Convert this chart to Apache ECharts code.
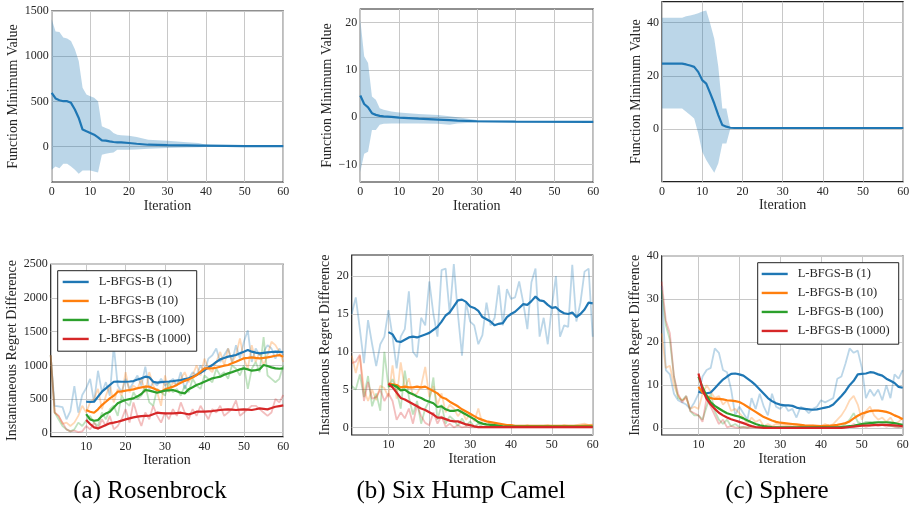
<!DOCTYPE html>
<html>
<head>
<meta charset="utf-8">
<script src="https://cdn.jsdelivr.net/npm/echarts@6/dist/echarts.min.js"></script>
<style>html,body{margin:0;padding:0;background:#fff;}#c{width:909px;height:511px;}</style>
</head>
<body>
<div id="c"></div>
<script>
// ---------- DATA ----------
const methodNames = ['L-BFGS-B (1)','L-BFGS-B (10)','L-BFGS-B (100)','L-BFGS-B (1000)'];
const methodColors = ['#1f77b4','#ff7f0e','#2ca02c','#d62728'];
const captions = ['(a) Rosenbrock','(b) Six Hump Camel','(c) Sphere'];

// Top row: mean ± band of function minimum value
const rbX     = [0,1,2,3,4,5,6,7,8,9,10,11,12,13,14,15,16,17,18,20,22,25,30,35,38,40,45,50,60];
const rbMean  = [596,533,514,503,503,485,411,318,189,170,152,133,104,70,67,59,52,48,48,41,33,22,18,15,12,11,9,7,7];
const rbUpper = [1410,1273,1269,1206,1195,1169,1077,947,651,577,559,540,503,226,207,189,152,133,126,122,107,78,67,48,41,22,11,8,7];
const rbLower = [-255,-218,-237,-189,-189,-218,-255,-300,-263,-263,-263,-274,-285,-89,-78,-70,-63,-33,-33,-33,-30,-22,-15,-8,-5,-4,3,5,6];

const shX     = [0,1,2,3,4,5,6,8,10,15,20,23,25,30,40,60];
const shMean  = [4.6,2.8,2.1,0.85,0.5,0.3,0.2,0.07,-0.07,-0.3,-0.5,-0.62,-0.7,-0.85,-0.92,-1.0];
const shUpper = [20.7,12.9,11.5,4.4,3.7,1.9,1.56,1.2,1.0,0.7,0.5,0.2,0,-0.57,-0.8,-1.0];
const shLower = [-11.6,-7.7,-7.3,-2.7,-2.7,-1.6,-1.4,-1.35,-1.3,-1.3,-1.4,-1.6,-1.3,-1.1,-1.05,-1.05];

const spX     = [0,5,6,7,8,9,10,11,12,13,14,15,16,17,18,60];
const spMean  = [24.6,24.6,24.3,23.9,23.4,21.5,18.4,17.1,13.4,9.6,5.25,1.5,0.9,0.5,0.4,0.4];
const spUpper = [41.9,41.9,42.4,42.75,43.1,43.6,44.25,44.6,39.6,34,23.4,7.75,7.75,0.4,0.4,0.4];
const spLower = [7.75,7.75,6.5,5.25,4,-1.6,-8.5,-11.6,-14.1,-16.4,-12.9,-5.4,-5.4,0.25,0.4,0.4];

// Bottom row: raw instantaneous regret difference, iterations 1..60
const rbRawBlue = [1150,400,390,380,200,320,690,300,560,660, 800,450,920,600,750,550,1290,700,600,800, 650,750,850,700,980,650,750,700,800,700, 750,800,700,900,650,800,900,850,1000,900, 1100,1150,1250,1050,1150,1250,1050,1300,1100,1350, 1520,1050,1250,1150,1200,1300,1250,1100,1250,1150];
const rbRawOrange = [1150,300,250,130,150,100,150,250,400,300, 450,500,650,350,550,700,450,650,550,900, 600,700,650,800,600,900,700,600,400,850, 600,750,700,800,900,750,850,1000,850,1100, 950,900,1050,1200,1000,1250,1050,1150,1400,1100, 950,1300,1050,1200,1000,1150,1350,1300,1200,1050];
const rbRawGreen = [1150,300,200,100,50,20,50,150,100,180, 250,150,100,300,200,350,400,250,550,450, 400,600,500,550,700,450,400,650,600,550, 750,600,650,550,700,600,800,700,650,850, 800,750,950,850,900,800,1000,950,850,1000, 650,950,1050,900,1420,850,800,750,800,1000];
const rbRawRed = [1150,300,250,150,50,20,30,10,20,100, 50,150,50,200,100,250,50,100,200,350, 150,450,250,100,300,200,400,250,150,300, 200,350,250,450,300,200,350,250,400,300, 200,350,300,400,250,300,350,480,250,300, 350,400,400,350,300,250,300,500,450,560];

const shRawBlue = [15,17.2,13,8.5,14.2,11,8.1,11,12,15.5, 12,7.8,12,13,18,10,9.3,14.5,13.5,19.3, 15,12,20.8,21,15,21.6,15,9.5,16.5,14, 13.5,11,12.2,16.5,13.5,14.5,18.8,13.5,18.3,17, 17.2,19.3,16.5,13,19.2,21,12,14.5,11,16, 20,12,13.5,13.3,21.5,14,16.5,20.6,21,12];
const shRawOrange = [9.5,7.2,9.5,5,3.5,5,3.6,5.5,5.2,4, 8.2,3.8,8.6,5.2,6.5,4.2,4.5,5.5,8,4, 5.5,3,4.5,2,3,2.5,1.5,2.2,1,1.8, 0.8,2.5,0.5,0.3,0.6,0.2,0.4,0.1,0.2,0.3, 0.1,0.2,0.1,0.3,0.1,0.2,0.1,0.2,0.3,0.1, 0.2,0.1,0.3,0.2,0.1,0.3,0.4,0.5,0.3,0.4];
const shRawGreen = [5.5,5,7,4,6.8,2.8,4.5,2.2,10,5.3, 6.4,4.8,2.5,7.5,4,1.7,3.5,0.5,2.5,3.5, 6.6,1,3,0.5,1.5,1,0.2,1.2,0.2,0.8, 0.1,0.5,0.1,0.1,0.05,0.1,0.05,0.05,0.05,0.05, 0.05,0.05,0.05,0.05,0.05,0.05,0.05,0.05,0.05,0.05, 0.05,0.05,0.05,0.05,0.05,0.05,0.05,0.05,0.05,0.05];
const shRawRed = [8.5,8.7,9.6,3.5,6,3.8,4,5,3.5,4.5, 3.5,1,2,1.2,2.5,0.5,3,1.5,0.6,0.3, 2,0.5,1.5,0.1,0.5,0,0.3,0,0.1,0, 0,0,0,0,0,0,0,0,0,0, 0,0,0,0,0,0,0,0,0,0, 0,0,0,0,0,0,0,0,0,0];

const spRawBlue = [33,13.5,12.5,8,6.5,6,5.5,4.5,6,8, 12,13.5,14,18.5,17.5,13.5,13,9,3,5, 3.5,2,7,4.5,8,5,3,8,5,4.5, 5.5,4,4.5,2.5,5,4.5,3.5,4.5,5,6.5, 6,6.5,7,11.5,12,15,18.5,17.5,18,14, 7,9,7.5,9,6.5,10,7,12.5,11.5,13.5];
const spRawOrange = [22,14,14.5,10,7.5,6.5,7,4.5,5,4.5, 8,10,8.5,7,7.5,5.5,6.5,4,4.5,3.5, 2.5,1,2.5,1.5,2,0.5,1,0.5,1,0.8, 0.8,0.6,0.5,0.7,0.4,0.5,0.3,0.6,0.4,0.5, 1,0.5,1,2,3,4.5,6.5,7.5,5.5,2, 4,5,3,2,2.5,1.5,2.5,1,1.5,2.5];
const spRawGreen = [32,24,20.5,12,7,6.5,7.5,4,3,3, 2,5,8,4,2,1,2,0.5,1,0.3, 0.3,0.2,0.5,0.2,0.3,0.1,0.2,0.1,0.2,0.1, 0.2,0.1,0.2,0.1,0.2,0.1,0.2,0.1,0.2,0.1, 0.2,0.3,0.2,0.3,0.5,1,2,3.5,1.5,1, 1.5,1.5,1,0.8,1,0.8,0.5,0.5,0.3,0.5];
const spRawRed = [34,25,22,12,8,6,7.5,4,3.5,3, 1.5,7,5,3,1,2,0.2,0.5,0.2,0.1, 0.3,0.1,0.2,0.1,0.1,0.2,0.1,0.1,0.2,0.1, 0.1,0.2,0.1,0.1,0.2,0.1,0.1,0.2,0.1,0.1, 0.2,0.1,0.3,0.2,0.1,0.2,0.3,1,0.5,0.8, 0.3,0.6,1,0.5,0.8,0.4,0.6,0.3,0.2,0.3];

// Bottom row: smoothed curves, iterations 10..60
const rbSmBlue = [460,458,460,535,609,658,708,757,760,757, 757,760,767,790,807,832,822,757,743,750, 757,760,767,775,782,795,807,830,856,890, 931,968,1005,1050,1089,1110,1129,1140,1153,1180, 1203,1228,1203,1190,1178,1185,1193,1198,1203,1200,1198];
const rbSmOrange = [337,312,297,347,411,460,510,550,609,615, 624,634,644,660,673,683,683,660,634,609, 644,665,683,710,743,770,792,820,856,905, 955,955,955,965,980,995,1005,1030,1054,1080, 1104,1110,1119,1110,1104,1110,1119,1130,1143,1153,1129];
const rbSmGreen = [277,198,178,188,247,287,312,376,436,465, 485,498,510,540,574,634,624,610,594,610, 624,630,634,615,594,584,644,675,708,730, 757,782,807,820,832,860,881,900,921,940, 955,940,921,930,941,1005,990,970,955,950,955];
const rbSmRed = [188,129,79,64,89,114,139,150,163,180, 198,213,228,238,247,250,252,275,297,292, 287,287,287,292,297,285,272,290,312,312, 312,317,322,330,337,342,347,342,337,342, 347,342,337,349,361,354,347,366,386,396,406];

const shSmBlue = [12.6,12.3,11.4,11.3,11.6,11.9,12,11.9,12.1,12.3, 12.5,12.9,13.3,14,14.8,15.2,16,16.8,16.9,16.6, 16,15.8,15.4,14.6,14.3,14,13.5,13.7,13.8,14.6, 15,15.3,15.8,16.3,16.2,16.7,17.3,16.8,16.7,16.2, 15.8,15.9,15.4,15.1,15,15.2,14.6,15,15.6,16.5,16.4];
const shSmOrange = [5.8,5.7,5.6,5.3,5.4,5.3,5.3,5.4,5.3,5.4, 5.1,4.8,4.5,4.0,3.8,3.4,3.1,2.8,2.4,2.1, 1.8,1.5,1.2,1.0,0.8,0.7,0.6,0.5,0.4,0.3, 0.3,0.2,0.2,0.2,0.2,0.2,0.2,0.2,0.2,0.2, 0.2,0.2,0.2,0.2,0.2,0.2,0.22,0.22,0.25,0.25,0.25];
const shSmGreen = [5.5,5.6,5.4,4.9,5.0,4.6,4.4,4.1,3.9,3.6, 3.4,3.2,2.7,2.8,2.4,2.2,2.2,2.3,2.0,1.7, 1.4,1.1,0.7,0.5,0.4,0.35,0.3,0.2,0.15,0.12, 0.1,0.1,0.1,0.1,0.1,0.1,0.1,0.1,0.1,0.1, 0.1,0.1,0.1,0.1,0.1,0.1,0.1,0.1,0.1,0.1,0.1];
const shSmRed = [5.8,5.3,4.6,3.9,3.7,3.4,3.1,2.8,2.5,2.3, 2.0,1.7,1.3,1.3,1.1,0.9,0.8,0.8,0.6,0.4, 0.3,0.15,0.05,0.05,0.05,0.05,0.05,0.05,0.05,0.05, 0.05,0.05,0.05,0.05,0.05,0.05,0.05,0.05,0.05,0.05, 0.05,0.05,0.05,0.05,0.05,0.05,0.05,0.05,0.05,0.05,0.05];

const spSmBlue = [8.5,8.2,8.1,8.3,9.3,10.3,11.3,12,12.6,12.7, 12.5,12.2,11.5,10.8,10,9,8,7,6.3,5.8, 5.5,5.3,5.3,5.2,4.8,4.6,4.5,4.4,4.3,4.4, 4.6,4.8,5,5.5,6.5,7.5,8.6,10,11,12.5, 12.6,12.7,13,12.9,12.5,12.2,11.5,11,10.5,9.6,9.4];
const spSmOrange = [9.6,8.3,7.5,7.0,6.8,6.8,6.7,6.5,6.4,6.3, 6.1,5.6,5.0,4.4,3.8,3.2,2.6,2.2,1.8,1.5, 1.3,1.2,1.1,1.0,0.9,0.8,0.7,0.65,0.6,0.55, 0.5,0.55,0.6,0.7,0.8,1.0,1.2,1.6,2.3,2.9, 3.4,3.7,4.0,4.1,4.1,4.0,3.8,3.5,3.0,2.6,2.1];
const spSmGreen = [12,9.5,7.5,6,5.2,4.6,4,3.5,3.2,2.9, 2.7,2.3,1.8,1.4,1.0,0.7,0.5,0.4,0.3,0.25, 0.2,0.2,0.2,0.2,0.2,0.2,0.2,0.2,0.2,0.2, 0.2,0.2,0.2,0.2,0.2,0.3,0.4,0.5,0.6,0.8, 1.0,1.1,1.2,1.3,1.4,1.4,1.4,1.3,1.2,1.0,0.8];
const spSmRed = [12.7,9,6.8,5.5,4.5,3.6,3,2.5,2.1,1.8, 1.5,1.2,0.8,0.5,0.3,0.2,0.1,0.1,0.1,0.1, 0.1,0.1,0.1,0.1,0.1,0.1,0.1,0.1,0.1,0.1, 0.1,0.1,0.1,0.1,0.1,0.1,0.2,0.3,0.4,0.5, 0.6,0.65,0.7,0.75,0.8,0.8,0.8,0.75,0.7,0.6,0.5];

// Tick labels
const xTicksTop = [0,10,20,30,40,50,60];
const xTicksBottom = [10,20,30,40,50,60];
const yTicksRbTop = [0,500,1000,1500];
const yTicksShTop = [-10,0,10,20];
const yTicksSpTop = [0,20,40];
const yTicksRbBot = [0,500,1000,1500,2000,2500];
const yTicksShBot = [0,5,10,15,20];
const yTicksSpBot = [0,10,20,30,40];

// ---------- CHART ----------
const F = 'Liberation Serif';
const TXT = '#262626';
const rawIter = rbRawBlue.map((_, i) => i + 1);
const smIter = rbSmBlue.map((_, i) => i + 10);
const pairs = (xs, ys) => ys.map((y, i) => [xs[i], y]);
const fmt = v => (v < 0 ? '\u2212' + Math.abs(v) : String(v));

const gridBoxes = [
  {left:51.7, top:11, width:231.6, height:171},
  {left:360.3, top:9, width:233, height:173},
  {left:662, top:1.7, width:241.3, height:180},
  {left:50.7, top:264.3, width:232.6, height:172.4},
  {left:351.7, top:255, width:241, height:180},
  {left:661.7, top:255.7, width:241, height:179.3}
];
const yRanges = [[-390,1500],[-13.7,22.9],[-19.8,47.9],[-59,2500],[-1.0,22.8],[-1.55,40]];
const yTicks = [yTicksRbTop,yTicksShTop,yTicksSpTop,yTicksRbBot,yTicksShBot,yTicksSpBot];
const yGaps = [28,26,18,28,18,18];
const yNames = ['Function Minimum Value','Function Minimum Value','Function Minimum Value',
  'Instantaneous Regret Difference','Instantaneous Regret Difference','Instantaneous Regret Difference'];

const grid = gridBoxes.map(b => Object.assign({show:true, borderColor:'#222', borderWidth:1.2, backgroundColor:'transparent', containLabel:false, outerBoundsMode:'none'}, b));

const xAxis = gridBoxes.map((b, i) => {
  const top = i < 3;
  const t = top ? xTicksTop : xTicksBottom;
  return {type:'value', gridIndex:i, min: top ? 0 : 1, max:60,
    name:'Iteration', nameLocation:'middle', nameGap: top ? 16 : 15,
    nameTextStyle:{fontFamily:F, fontSize:14, color:TXT},
    axisLine:{show:false},
    axisTick:{show:false, customValues:t},
    axisLabel:{customValues:t, margin:4, fontFamily:F, fontSize:12, color:TXT, formatter:fmt},
    splitLine:{show:true, lineStyle:{color:'#c8c8c8', width:1}}};
});
const yAxis = gridBoxes.map((b, i) => ({type:'value', gridIndex:i, min:yRanges[i][0], max:yRanges[i][1],
  name:yNames[i], nameLocation:'middle', nameGap:yGaps[i], nameRotate:90,
  nameTextStyle:{fontFamily:F, fontSize:14, color:TXT},
  axisLine:{show:false},
  axisTick:{show:false, customValues:yTicks[i]},
  axisLabel:{customValues:yTicks[i], margin:3, fontFamily:F, fontSize:12, color:TXT, formatter:fmt},
  splitLine:{show:true, lineStyle:{color:'#c8c8c8', width:1}}}));

const series = [];
function band(gi, xs, mean, upper, lower) {
  series.push({type:'custom', name:'band'+gi, xAxisIndex:gi, yAxisIndex:gi, silent:true, z:1, clip:true,
    data:[[xs[0], mean[0]]],
    renderItem: (params, api) => {
      const pts = [];
      for (let k = 0; k < xs.length; k++) pts.push(api.coord([xs[k], upper[k]]));
      for (let k = xs.length - 1; k >= 0; k--) pts.push(api.coord([xs[k], lower[k]]));
      return {type:'polygon', shape:{points:pts}, style:{fill:'rgba(31,119,180,0.3)', stroke:null}};
    }});
  series.push({type:'line', name:'mean'+gi, xAxisIndex:gi, yAxisIndex:gi, data:pairs(xs, mean),
    symbol:'none', lineStyle:{color:'#1f77b4', width:2.2}, z:3});
}
band(0, rbX, rbMean, rbUpper, rbLower);
band(1, shX, shMean, shUpper, shLower);
band(2, spX, spMean, spUpper, spLower);

function regret(gi, raws, sms) {
  raws.forEach((r, k) => series.push({type:'line', name:'raw'+gi+'_'+k, xAxisIndex:gi, yAxisIndex:gi,
    data:pairs(rawIter, r), symbol:'none', lineStyle:{color:methodColors[k], width:1.8, opacity:0.3}, z:2}));
  sms.forEach((s, k) => series.push({type:'line', name:methodNames[k], xAxisIndex:gi, yAxisIndex:gi,
    data:pairs(smIter, s), symbol:'none', color:methodColors[k], lineStyle:{color:methodColors[k], width:2.2}, z:3}));
}
regret(3, [rbRawBlue,rbRawOrange,rbRawGreen,rbRawRed], [rbSmBlue,rbSmOrange,rbSmGreen,rbSmRed]);
regret(4, [shRawBlue,shRawOrange,shRawGreen,shRawRed], [shSmBlue,shSmOrange,shSmGreen,shSmRed]);
regret(5, [spRawBlue,spRawOrange,spRawGreen,spRawRed], [spSmBlue,spSmOrange,spSmGreen,spSmRed]);

const legendBase = {orient:'vertical', selectedMode:false,
  data: methodNames.map((n, k) => ({name:n, icon:'rect', itemStyle:{color:methodColors[k]}})),
  backgroundColor:'#ffffff', borderColor:'#222', borderWidth:1, borderRadius:0,
  itemWidth:26, itemHeight:2.4, itemGap:4.5,
  textStyle:{fontFamily:F, fontSize:12.5, lineHeight:14.5, color:TXT, padding:[0,0,0,5]}};

const captionX = [150, 461, 777];
const graphic = captions.map((t, i) => ({type:'text', x:captionX[i], y:491,
  style:{text:t, fontFamily:F, fontSize:25, fill:'#000', align:'center', verticalAlign:'middle', textAlign:'center', textVerticalAlign:'middle'}}));

const chart = echarts.init(document.getElementById('c'), null, {renderer:'canvas'});
chart.setOption({
  animation:false,
  backgroundColor:'#ffffff',
  grid, xAxis, yAxis, series, graphic,
  legend:[
    Object.assign({left:57.7, top:270.7, padding:[4,6,5,5]}, legendBase),
    Object.assign({left:757.7, top:262.7, padding:[4,9,6,4]}, legendBase)
  ]
});
</script>
</body>
</html>
